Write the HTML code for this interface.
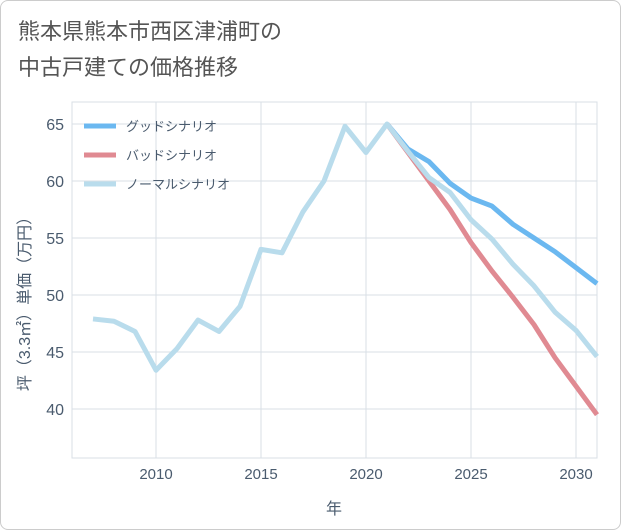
<!DOCTYPE html>
<html><head><meta charset="utf-8"><style>
body{margin:0;background:#fff}
#wrap{position:relative;width:621px;height:530px;font-family:"Liberation Sans","Noto Sans CJK JP",sans-serif}
.frame{position:absolute;left:0;top:0;border:1px solid #ccc;border-radius:8px;box-sizing:border-box;width:621px;height:530px}
.title{position:absolute;left:18px;top:14px;font-size:22px;line-height:36px;color:#555}
</style></head><body>
<div id="wrap">
<div class="frame"></div>
<div class="title">熊本県熊本市西区津浦町の<br>中古戸建ての価格推移</div>
<svg id="chart" width="621" height="530" style="position:absolute;left:0;top:0"></svg>
</div>
<script>
const years=[2007,2008,2009,2010,2011,2012,2013,2014,2015,2016,2017,2018,2019,2020,2021,2022,2023,2024,2025,2026,2027,2028,2029,2030,2031];
const normalVals=[47.9,47.7,46.8,43.4,45.3,47.8,46.8,49,54,53.7,57.3,60,64.8,62.5,65,62.6,60.3,59,56.6,54.9,52.7,50.8,48.5,46.9,44.6];
const goodYears=[2021,2022,2023,2024,2025,2026,2027,2028,2029,2030,2031];
const goodVals=[65,62.8,61.7,59.8,58.5,57.8,56.2,55,53.8,52.4,51];
const badVals=[65,62.5,60,57.5,54.6,52.1,49.8,47.4,44.5,42,39.5];
const xTicks=[2010,2015,2020,2025,2030];
const yTicks=[40,45,50,55,60,65];
const L=72,R=597,T=102,B=458;
const TXT='#4a5b6e',GRID='#d8dfe6';
const xs=y=>L+(y-2006)*(R-L)/25;
const ys=v=>409-(v-40)*(285/25);
const svg=document.getElementById('chart');const NS='http://www.w3.org/2000/svg';
function mk(t,a){const e=document.createElementNS(NS,t);for(const k in a)e.setAttribute(k,a[k]);svg.appendChild(e);return e;}
let bg=mk('rect',{x:L,y:T,width:R-L,height:B-T,fill:'#fff',stroke:GRID});


xTicks.forEach(t=>{let l=mk('line',{x1:xs(t),x2:xs(t),y1:T,y2:B,stroke:GRID});


let tx=mk('text',{x:xs(t),y:479,'text-anchor':'middle','font-size':15,fill:TXT});tx.textContent=t;

});
yTicks.forEach(t=>{let l=mk('line',{x1:L,x2:R,y1:ys(t),y2:ys(t),stroke:GRID});


let tx=mk('text',{x:64,y:ys(t)+6,'text-anchor':'end','font-size':16,fill:TXT});tx.textContent=t;

});
let xt=mk('text',{x:334,y:514,'text-anchor':'middle','font-size':16,fill:TXT});xt.textContent='年';


let yt=mk('text',{x:0,y:0,'text-anchor':'middle','font-size':16,fill:TXT,transform:'translate(30,300) rotate(-90)'});yt.textContent='坪（3.3㎡）単価（万円）';


function line(xv,yv,col,name){const p=mk('polyline',{points:xv.map((x,i)=>xs(x)+','+ys(yv[i])).join(' '),fill:'none',stroke:col,'stroke-width':5,'stroke-linejoin':'round'});

}
line(goodYears,goodVals,'#6bb8f0','good-scenario-line');
line(goodYears,badVals,'#e08a92','bad-scenario-line');
line(years,normalVals,'#b9dcec','normal-scenario-line');
[['グッドシナリオ','#6bb8f0',126],['バッドシナリオ','#e08a92',155],['ノーマルシナリオ','#b9dcec',184]].forEach(([n,c,y])=>{
let l=mk('line',{x1:84,x2:116,y1:y,y2:y,stroke:c,'stroke-width':5});


let t=mk('text',{x:126,y:y+5,'font-size':13,fill:TXT});t.textContent=n;

});
</script>
</body></html>
